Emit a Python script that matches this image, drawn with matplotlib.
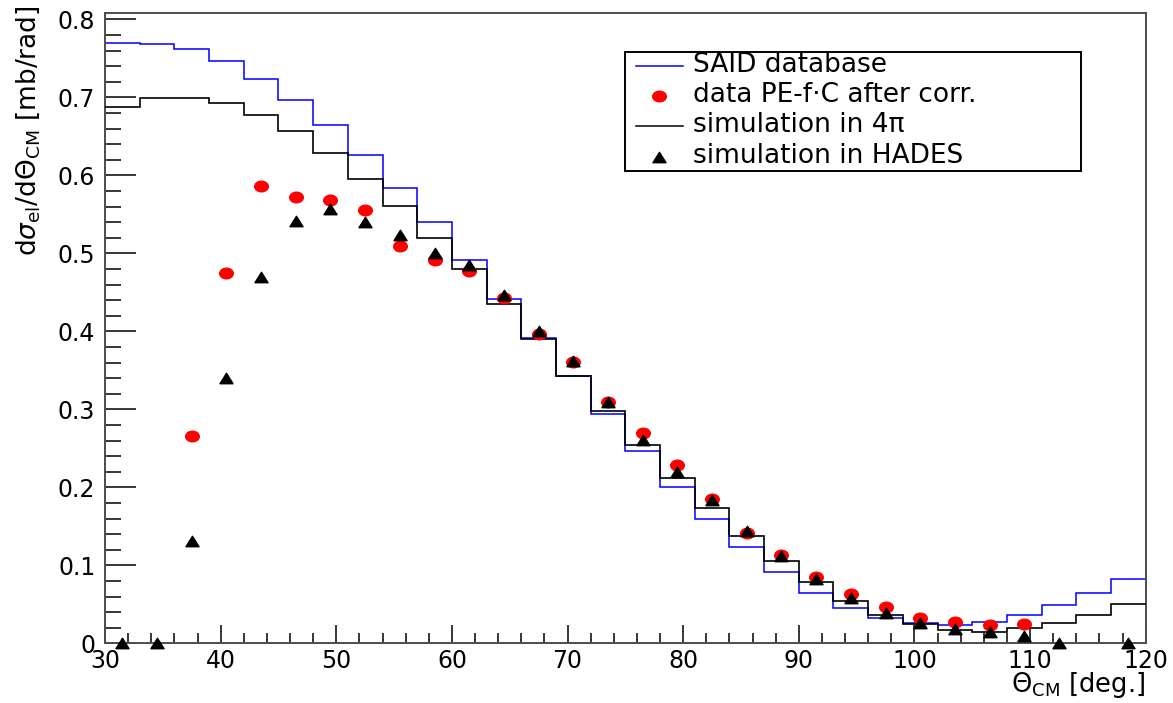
import numpy as np
import matplotlib
matplotlib.use("Agg")
import matplotlib.pyplot as plt
from matplotlib.path import Path
from matplotlib.lines import Line2D
from matplotlib.patches import Rectangle
from matplotlib.ticker import MultipleLocator, FuncFormatter

plt.rcParams["font.family"] = ["DejaVu Sans"]
plt.rcParams["mathtext.fontset"] = "dejavusans"

# 3-degree bins in theta_CM from 30 to 120 deg
bin_edges = np.arange(30, 121, 3)
bin_centers = 0.5 * (bin_edges[:-1] + bin_edges[1:])

said_database = [0.770, 0.769, 0.762, 0.7465, 0.724, 0.697, 0.664, 0.626,
                 0.584, 0.540, 0.492, 0.442, 0.392, 0.343, 0.294, 0.246,
                 0.201, 0.159, 0.123, 0.091, 0.065, 0.045, 0.032, 0.0256,
                 0.023, 0.027, 0.036, 0.049, 0.064, 0.082]

sim_4pi = [0.687, 0.699, 0.699, 0.693, 0.677, 0.657, 0.629, 0.595,
           0.561, 0.520, 0.4795, 0.435, 0.390, 0.343, 0.298, 0.254,
           0.212, 0.173, 0.137, 0.105, 0.078, 0.054, 0.036, 0.025,
           0.017, 0.015, 0.019, 0.026, 0.036, 0.050]

nan = np.nan
data_corr = [nan, nan, 0.266, 0.475, 0.586, 0.572, 0.569, 0.556,
             0.510, 0.492, 0.477, 0.443, 0.397, 0.361, 0.309, 0.270,
             0.228, 0.185, 0.141, 0.113, 0.085, 0.063, 0.046, 0.033,
             0.027, 0.024, 0.025, nan, nan, nan]

sim_hades = [0.0, 0.0, 0.131, 0.340, 0.469, 0.542, 0.557, 0.540,
             0.524, 0.501, 0.485, 0.446, 0.400, 0.362, 0.309, 0.261,
             0.220, 0.184, 0.144, 0.112, 0.082, 0.058, 0.0385, 0.026,
             0.018, 0.015, 0.0094, 0.0, nan, 0.0]

legend_labels = ["SAID database", "data PE-f\u00b7C after corr.",
                 "simulation in 4\u03c0", "simulation in HADES"]

# marker shapes: slightly wide ellipse and a flat triangle
ellipse = Path(Path.unit_circle().vertices * np.array([1.0, 0.78]),
               Path.unit_circle().codes)
triangle = Path([(0, 0.8), (-1, -0.8), (1, -0.8), (0, 0.8)],
                [Path.MOVETO, Path.LINETO, Path.LINETO, Path.CLOSEPOLY])

fig = plt.figure(figsize=(11.73, 7.03), dpi=100)
ax = fig.add_axes([0.08951, 0.08492, 0.88721, 0.89701])

ax.stairs(said_database, bin_edges, baseline=None, color="#0000ff", lw=1.1,
          zorder=2)
ax.stairs(sim_4pi, bin_edges, baseline=None, color="black", lw=1.2,
          zorder=3)
ax.plot(bin_centers, data_corr, ls="none", marker=ellipse, ms=9.8,
        color="#ff0000", mec="#ff0000", zorder=4, clip_on=False)
ax.plot(bin_centers, sim_hades, ls="none", marker=triangle, ms=9.4,
        color="black", mec="black", zorder=5, clip_on=False)

ax.set_xlim(30, 120)
ax.set_ylim(0, 0.8085)

ax.xaxis.set_major_locator(MultipleLocator(10))
ax.xaxis.set_minor_locator(MultipleLocator(2))
ax.yaxis.set_major_locator(MultipleLocator(0.1))
ax.yaxis.set_minor_locator(MultipleLocator(0.02))
ax.yaxis.set_major_formatter(
    FuncFormatter(lambda v, p: "0" if abs(v) < 1e-9 else f"{v:.1f}"))
ax.xaxis.set_major_formatter(FuncFormatter(lambda v, p: f"{v:.0f}"))

ax.tick_params(axis="both", which="both", direction="in", color="black",
               width=1.1, labelsize=17, top=False, right=False)
ax.tick_params(axis="x", which="major", length=13, pad=4)
ax.tick_params(axis="x", which="minor", length=7.2)
ax.tick_params(axis="y", which="major", length=22.3, pad=7)
ax.tick_params(axis="y", which="minor", length=11.2)

for sp in ax.spines.values():
    sp.set_color("#4d4d4d")
    sp.set_linewidth(1.4)

ax.set_xlabel(r"$\Theta_{\mathrm{CM}}$ [deg.]", fontsize=18.5, loc="right")
ax.xaxis.set_label_coords(1.0, -0.043)
ax.set_ylabel(r"d$\sigma_{\mathrm{el}}$/d$\Theta_{\mathrm{CM}}$ [mb/rad]",
              fontsize=19, loc="top")
ax.yaxis.set_label_coords(-0.0605, 1.012)

# legend box
lx0, lx1, ly0, ly1 = 0.4997, 0.9378, 0.7493, 0.9377
ax.add_patch(Rectangle((lx0, ly0), lx1 - lx0, ly1 - ly0, transform=ax.transAxes,
                       facecolor="white", edgecolor="black", lw=1.4,
                       zorder=10, clip_on=False))
row0, pitch = 0.9155, 0.0479
h0, h1, hc, tx = 0.5102, 0.5554, 0.5323, 0.565
styles = [
    dict(kind="line", color="#0000ff"),
    dict(kind="marker", color="#ff0000", marker=ellipse, ms=9.8),
    dict(kind="line", color="black"),
    dict(kind="marker", color="black", marker=triangle, ms=9.4),
]
for i, (lab, st) in enumerate(zip(legend_labels, styles)):
    yc = row0 - i * pitch
    if st["kind"] == "line":
        ax.add_line(Line2D([h0, h1], [yc, yc], transform=ax.transAxes,
                           color=st["color"], lw=1.1, zorder=11,
                           clip_on=False))
    else:
        ax.add_line(Line2D([hc], [yc], transform=ax.transAxes, ls="none",
                           marker=st["marker"], ms=st["ms"],
                           color=st["color"], mec=st["color"], zorder=11,
                           clip_on=False))
    ax.text(tx, yc - 0.0095, lab, transform=ax.transAxes, fontsize=19,
            va="baseline", ha="left", zorder=12)

fig.savefig("out.png", dpi=100)
